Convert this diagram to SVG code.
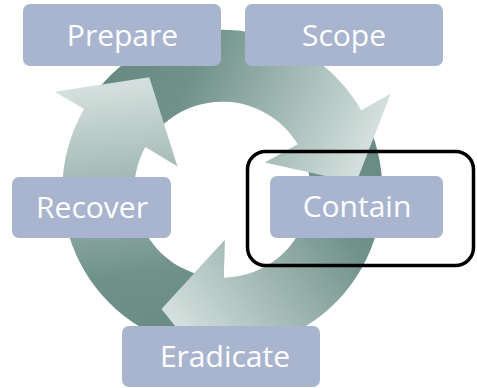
<svg xmlns="http://www.w3.org/2000/svg" xmlns:xlink="http://www.w3.org/1999/xlink" width="477" height="388" viewBox="0 0 477 388">
  <style>
    .box { fill: #a9b5cf; }
    .label { font-family: "Open Sans", "Noto Sans", "DejaVu Sans", sans-serif; font-size: 30px; fill: #ffffff; text-anchor: middle; }
    .arrow { fill: url(#arrowFill); }
    .focus { fill: none; stroke: #000000; stroke-width: 3.5; }
  </style>
  <defs>
    <!-- shading runs from the tail (dark) to the head (light), in the arrow's own frame -->
    <linearGradient id="arrowFill" gradientUnits="userSpaceOnUse" x1="-35" y1="150" x2="-65" y2="-108">
      <stop offset="0" stop-color="#688b83"/>
      <stop offset="0.27" stop-color="#6f9189"/>
      <stop offset="1" stop-color="#d3dfdc"/>
    </linearGradient>
    <!-- one curved arrow of the ring, centred on the origin: outer r=160, inner r=88 -->
    <path id="arrowShape" d="M -14.78 159.31 A 160 160 0 0 1 -138.14 -80.72 L -167.50 -97.87 L -72.98 -112.38 L -44.83 -23.24 L -76.97 -42.66 A 88 88 0 0 0 -8.13 87.62 Z"/>
    <!-- the head alone, used to lay it over the next arrow's tail -->
    <path id="arrowHead" d="M -138.14 -80.72 L -167.50 -97.87 L -72.98 -112.38 L -44.83 -23.24 L -76.97 -42.66 Z"/>
  </defs>

  <g id="connectors" transform="translate(222.3 189.7)">
    <use xlink:href="#arrowShape" class="arrow" transform="rotate(240)"/>
    <use xlink:href="#arrowShape" class="arrow" transform="rotate(120)"/>
    <use xlink:href="#arrowShape" class="arrow"/>
    <use xlink:href="#arrowHead" class="arrow" transform="rotate(240)"/>
  </g>

  <g id="prepare">
    <rect class="box" x="23" y="4" width="198" height="62" rx="7"/>
    <text class="label" x="122.5" y="46">Prepare</text>
  </g>
  <g id="scope">
    <rect class="box" x="245" y="4" width="198" height="62" rx="7"/>
    <text class="label" x="344" y="46">Scope</text>
  </g>
  <g id="recover">
    <rect class="box" x="12" y="177" width="159" height="61" rx="7"/>
    <text class="label" x="92" y="218">Recover</text>
  </g>
  <g id="contain">
    <rect class="box" x="270" y="176" width="173" height="62" rx="7"/>
    <text class="label" x="357" y="217">Contain</text>
  </g>
  <g id="eradicate">
    <rect class="box" x="122" y="326" width="198" height="61" rx="7"/>
    <text class="label" x="225" y="367">Eradicate</text>
  </g>

  <rect id="contain-highlight" class="focus" x="247.5" y="151.5" width="226" height="114" rx="18"/>
</svg>
